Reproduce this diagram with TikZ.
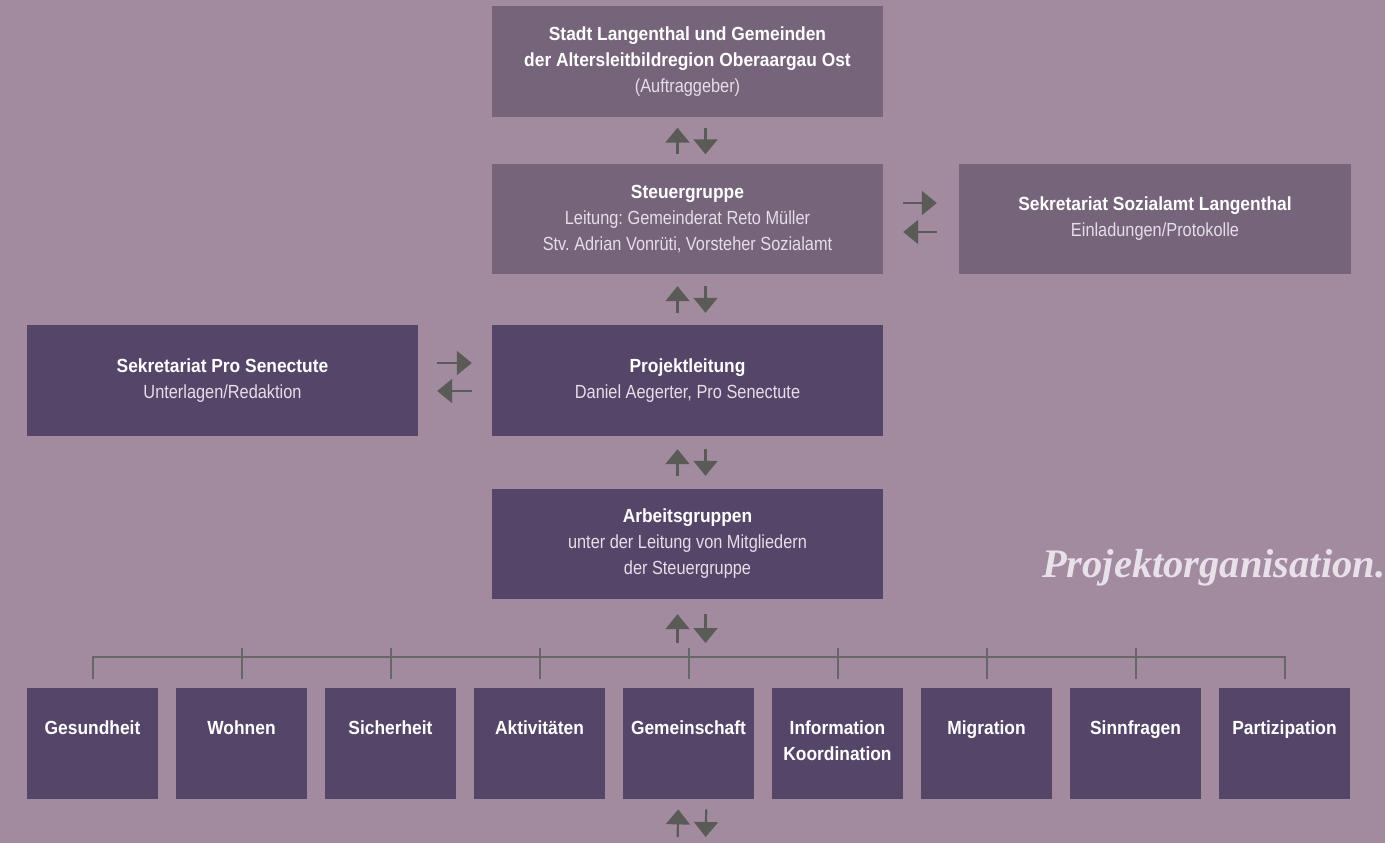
\documentclass[tikz,border=0pt]{standalone}
\usepackage{fontspec}
\usetikzlibrary{arrows.meta,calc}
\newfontfamily\condbold{Liberation Sans}[FakeStretch=0.915]
\newfontfamily\condreg{Liberation Sans}[FakeStretch=0.86]
\newfontfamily\titleserif{Liberation Serif}
\frenchspacing
\definecolor{bgc}{HTML}{A38B9F}
\definecolor{lightc}{HTML}{76647B}
\definecolor{darkc}{HTML}{554669}
\definecolor{arrowc}{HTML}{5A5B56}
\definecolor{linec}{HTML}{676766}
\definecolor{subc}{HTML}{E6DEE8}
\definecolor{titlec}{HTML}{E9E1EA}
\newcommand\boxhead[1]{{\condbold\bfseries\color{white}#1}}
\tikzset{
  box/.style={rectangle, inner sep=0pt, align=center, text=subc,
    font=\condreg\frenchspacing\fontsize{19pt}{26pt}\selectfont},
  lightbox/.style={box, fill=lightc, minimum width=391pt},
  darkbox/.style={box, fill=darkc, minimum width=391pt},
  catbox/.style={rectangle, inner sep=0pt, fill=darkc, anchor=north,
    text=white, font=\condbold\bfseries\fontsize{19pt}{26pt}\selectfont},
  flow/.style={draw=arrowc, line width=2.2pt, -{Triangle[width=24pt,length=15pt]}},
  bracket/.style={draw=linec, line width=2pt},
}
\newcommand\catlabel[1]{\parbox[t][111pt][t]{131pt}{\centering\rule{0pt}{46pt}#1}}
\begin{document}
\begin{tikzpicture}[x=1pt,y=-1pt]
\useasboundingbox (0,0) rectangle (1385,843);
\fill[bgc] (0,0) rectangle (1385,843);
% main boxes
\node[lightbox, minimum height=111pt] (top) at (687.5,61.5)
  {\boxhead{Stadt Langenthal und Gemeinden}\\ \boxhead{der Altersleitbildregion Oberaargau Ost}\\ (Auftraggeber)};
\node[lightbox, minimum height=110pt] (steuer) at (687.5,219)
  {\boxhead{Steuergruppe}\\ Leitung: Gemeinderat Reto Müller\\ Stv. Adrian Vonrüti, Vorsteher Sozialamt};
\node[lightbox, minimum height=110pt, minimum width=392pt] (soz) at (1155,219)
  {\boxhead{Sekretariat Sozialamt Langenthal}\\ Einladungen/Protokolle};
\node[darkbox, minimum height=111pt] (pro) at (222.5,380.5)
  {\boxhead{Sekretariat Pro Senectute}\\ Unterlagen/Redaktion};
\node[darkbox, minimum height=111pt] (proj) at (687.5,380.5)
  {\boxhead{Projektleitung}\\ Daniel Aegerter, Pro Senectute};
\node[darkbox, minimum height=110pt] (arb) at (687.5,544)
  {\boxhead{Arbeitsgruppen}\\ unter der Leitung von Mitgliedern\\ der Steuergruppe};
% categories
\foreach \i/\t in {1/Gesundheit,2/Wohnen,3/Sicherheit,4/Aktivitäten,5/Gemeinschaft,
  6/{Information\\Koordination},7/Migration,8/Sinnfragen,9/Partizipation}{
  \node[catbox] (c\i) at ({92.5+149*(\i-1)},688) {\catlabel{\t}};
}
% title
\node[anchor=base west, inner sep=0pt, text=titlec,
  font=\titleserif\bfseries\itshape\fontsize{40.5pt}{40.5pt}\selectfont] (title) at (1042,577) {Projektorganisation.};
% coordinates
\coordinate (bar) at (687.5,657);
\coordinate (foot) at (687.5,843);
% vertical arrow pairs
\draw[flow, shorten <=9.5pt, shorten >=10.5pt] ([xshift=-10pt]steuer.north) -- ([xshift=-10pt]top.south);
\draw[flow, shorten <=10.5pt, shorten >=9.5pt] ([xshift=18pt]top.south) -- ([xshift=18pt]steuer.north);
\draw[flow, shorten <=12pt, shorten >=12pt] ([xshift=-10pt]proj.north) -- ([xshift=-10pt]steuer.south);
\draw[flow, shorten <=12pt, shorten >=12pt] ([xshift=18pt]steuer.south) -- ([xshift=18pt]proj.north);
\draw[flow, shorten <=13pt, shorten >=13pt] ([xshift=-10pt]arb.north) -- ([xshift=-10pt]proj.south);
\draw[flow, shorten <=13pt, shorten >=13pt] ([xshift=18pt]proj.south) -- ([xshift=18pt]arb.north);
\draw[flow, shorten <=14pt, shorten >=15pt] ($(bar)+(-10,0)$) -- ([xshift=-10pt]arb.south);
\draw[flow, shorten <=15pt, shorten >=14pt] ([xshift=18pt]arb.south) -- ($(bar)+(18,0)$);
\draw[flow, shorten <=6pt, shorten >=10pt] ($(foot)+(-10,0)$) -- ([xshift=-10pt]c5.south);
\draw[flow, shorten <=10pt, shorten >=6pt] ([xshift=18pt]c5.south) -- ($(foot)+(18,0)$);
% horizontal arrow pairs
\draw[flow, shorten <=20pt, shorten >=22pt] ([yshift=16pt]steuer.east) -- ([yshift=16pt]soz.west);
\draw[flow, shorten <=22pt, shorten >=20pt] ([yshift=-13pt]soz.west) -- ([yshift=-13pt]steuer.east);
\draw[flow, shorten <=19pt, shorten >=20pt] ([yshift=17.5pt]pro.east) -- ([yshift=17.5pt]proj.west);
\draw[flow, shorten <=20pt, shorten >=19pt] ([yshift=-10.5pt]proj.west) -- ([yshift=-10.5pt]pro.east);
% bracket
\draw[bracket] ([yshift=9pt]c1.north) |- (bar) -| ([yshift=9pt]c9.north);
\foreach \i in {2,...,8}{
  \draw[bracket] ([yshift=9pt]c\i.north) -- ([yshift=9pt]c\i.north |- bar);
}
\end{tikzpicture}
\end{document}
